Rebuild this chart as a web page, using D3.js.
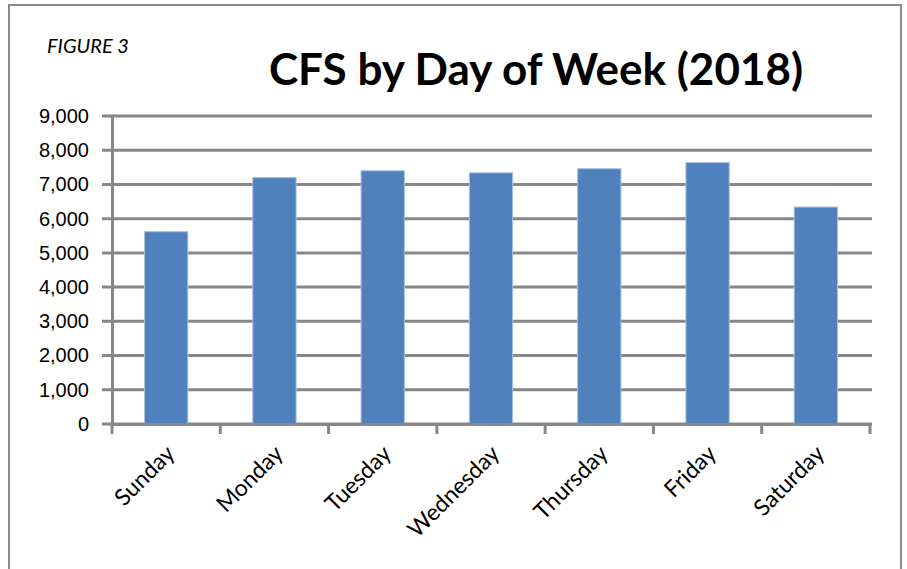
<!DOCTYPE html>
<html>
<head>
<meta charset="utf-8">
<script src="https://cdn.jsdelivr.net/npm/d3@7"></script>
<style>
  body { margin: 0; background: #fff; }
</style>
</head>
<body>
<div id="chart"></div>
<script>
// chart data
var days = ['Sunday', 'Monday', 'Tuesday', 'Wednesday', 'Thursday', 'Friday', 'Saturday'];
var calls = [5620, 7200, 7400, 7340, 7460, 7640, 6340];
var yTicks = [0, 1000, 2000, 3000, 4000, 5000, 6000, 7000, 8000, 9000];

var W = 907, H = 569;
var margin = {top: 116, right: 37, bottom: 145, left: 112};
var width = W - margin.left - margin.right;
var height = H - margin.top - margin.bottom;

var svg = d3.select('#chart').append('svg')
    .attr('width', W)
    .attr('height', H);

// outer frame
svg.append('rect')
    .attr('x', 9).attr('y', 5)
    .attr('width', 892).attr('height', 580)
    .attr('fill', 'none')
    .attr('stroke', '#8c8c8c')
    .attr('stroke-width', 2);

// titles
svg.append('text')
    .attr('x', 47).attr('y', 53)
    .attr('font-family', 'Lato')
    .attr('font-style', 'italic')
    .attr('font-size', '20px')
    .attr('fill', '#000')
    .text('FIGURE 3');

svg.append('text')
    .attr('x', 536).attr('y', 85)
    .attr('text-anchor', 'middle')
    .attr('font-family', 'Lato')
    .attr('font-weight', 'bold')
    .attr('font-size', '44px')
    .attr('fill', '#000')
    .text('CFS by Day of Week (2018)');

var g = svg.append('g')
    .attr('transform', 'translate(' + margin.left + ',' + margin.top + ')');

// scales
var x = d3.scaleBand().domain(days).range([0, width]).paddingInner(0.6).paddingOuter(0.3);
var xTick = d3.scaleBand().domain(days).range([0, width]);
var y = d3.scaleLinear().domain([0, 9000]).range([height, 0]);

// gridlines
g.append('g')
    .selectAll('line')
    .data(yTicks)
  .enter().append('line')
    .attr('x1', -10)
    .attr('x2', width + 2)
    .attr('y1', function(d) { return y(d); })
    .attr('y2', function(d) { return y(d); })
    .attr('stroke', '#878787')
    .attr('stroke-width', 3);

// y axis
var yAxis = d3.axisLeft(y)
    .tickValues(yTicks)
    .tickSize(0)
    .tickPadding(23)
    .tickFormat(d3.format(','));

g.append('g')
    .call(yAxis)
    .call(function(s) { s.select('.domain').attr('stroke', '#878787').attr('stroke-width', 3); })
    .selectAll('text')
    .attr('font-family', 'Liberation Sans')
    .attr('font-size', '20px')
    .attr('fill', '#000');

// bars
g.selectAll('rect.bar')
    .data(calls)
  .enter().append('rect')
    .attr('class', 'bar')
    .attr('x', function(d, i) { return x(days[i]); })
    .attr('width', x.bandwidth())
    .attr('y', function(d) { return y(d); })
    .attr('height', function(d) { return height - y(d); })
    .attr('fill', '#4f81bd')
    .attr('stroke', '#a9c1e0')
    .attr('stroke-width', 1);

// x axis with ticks on band edges
var xAxis = d3.axisBottom(xTick).tickSize(0).tickFormat('');
var xg = g.append('g')
    .attr('transform', 'translate(0,' + height + ')')
    .call(xAxis);
xg.select('.domain').attr('stroke', '#878787').attr('stroke-width', 3);

var edges = days.map(function(d) { return xTick(d); }).concat([width]);
xg.selectAll('line.edge')
    .data(edges)
  .enter().append('line')
    .attr('class', 'edge')
    .attr('x1', function(d) { return d; })
    .attr('x2', function(d) { return d; })
    .attr('y1', 0)
    .attr('y2', 10)
    .attr('stroke', '#878787')
    .attr('stroke-width', 3);

// rotated day labels
g.selectAll('text.day')
    .data(days)
  .enter().append('text')
    .attr('class', 'day')
    .attr('transform', function(d) {
      return 'translate(' + (xTick(d) + xTick.bandwidth() / 2 + 10) + ',' + (height + 31) + ') rotate(-45)';
    })
    .attr('text-anchor', 'end')
    .attr('font-family', 'Lato')
    .attr('font-size', '23px')
    .attr('fill', '#000')
    .text(function(d) { return d; });
</script>
</body>
</html>
